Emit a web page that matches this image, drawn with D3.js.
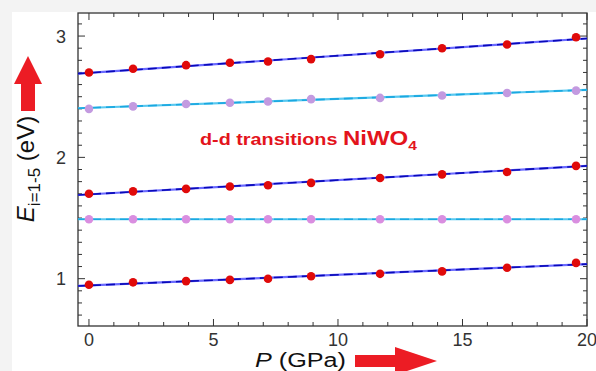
<!DOCTYPE html>
<html><head><meta charset="utf-8">
<script src="https://cdn.jsdelivr.net/npm/d3@7"></script>
<style>body{margin:0;background:#f3f3f3;}svg{display:block;}</style>
</head><body>
<svg id="c" width="596" height="371"></svg>
<script>
const pressures = [0, 1.77, 3.9, 5.66, 7.19, 8.92, 11.69, 14.18, 16.79, 19.56];
const band1 = [2.70, 2.73, 2.76, 2.78, 2.79, 2.81, 2.85, 2.90, 2.93, 2.99];
const band2 = [2.40, 2.42, 2.44, 2.45, 2.46, 2.48, 2.49, 2.51, 2.53, 2.55];
const band3 = [1.70, 1.72, 1.74, 1.76, 1.77, 1.79, 1.83, 1.86, 1.88, 1.93];
const band4 = [1.49, 1.49, 1.49, 1.49, 1.49, 1.49, 1.49, 1.49, 1.49, 1.49];
const band5 = [0.95, 0.97, 0.98, 0.99, 1.00, 1.02, 1.04, 1.06, 1.09, 1.13];
const fitStart = [2.69, 2.405, 1.69, 1.49, 0.94];
const fitEnd = [2.98, 2.556, 1.93, 1.49, 1.12];
const bandKind = ["red", "purple", "red", "purple", "red"];
const xTicks = [0, 5, 10, 15, 20];
const yTicks = [1, 2, 3];
const xDomain = [-0.44, 20];
const yDomain = [0.61, 3.19];

const svg = d3.select("#c");
svg.append("rect").attr("x",12).attr("y",12).attr("width",584).attr("height",359).attr("fill","#fff");
const L=78, R=587, T=13, B=326;
const x = d3.scaleLinear().domain(xDomain).range([L,R]);
const y = d3.scaleLinear().domain(yDomain).range([B,T]);
const bands = [band1, band2, band3, band4, band5];

// ticks
const g = svg.append("g").attr("stroke","#333").attr("stroke-width",1);
const xMinor = d3.range(0, 20.01, 1);
const yMinor = d3.range(0.7, 3.2, 0.1);
xMinor.forEach(v=>{
  const len = (Math.abs(v%5)<1e-6)?7:4;
  g.append("line").attr("x1",x(v)).attr("x2",x(v)).attr("y1",B).attr("y2",B-len);
  g.append("line").attr("x1",x(v)).attr("x2",x(v)).attr("y1",T).attr("y2",T+len);
});
yMinor.forEach(v=>{
  const isMaj = Math.abs(v-Math.round(v))<1e-6;
  const len = isMaj?7:4;
  g.append("line").attr("y1",y(v)).attr("y2",y(v)).attr("x1",L).attr("x2",L+len);
  g.append("line").attr("y1",y(v)).attr("y2",y(v)).attr("x1",R).attr("x2",R-len);
});
svg.append("rect").attr("x",L).attr("y",T).attr("width",R-L).attr("height",B-T)
  .attr("fill","none").attr("stroke","#333").attr("stroke-width",1.3);

// axis labels
const font = "Liberation Sans, Arial, sans-serif";
svg.selectAll(".xt").data(xTicks).enter().append("text")
  .attr("x",d=>x(d)).attr("y",346).attr("text-anchor","middle")
  .attr("font-family",font).attr("font-size",18).attr("fill","#333").text(d=>d);
svg.selectAll(".yt").data(yTicks).enter().append("text")
  .attr("x",66).attr("y",d=>y(d)+6.5).attr("text-anchor","end")
  .attr("font-family",font).attr("font-size",18).attr("fill","#333").text(d=>d);

// fit lines
const lineG = svg.append("g");
fitStart.forEach((s,i)=>{
  const purple = bandKind[i]==="purple";
  lineG.append("line").attr("x1",x(xDomain[0])).attr("x2",x(xDomain[1]))
    .attr("y1",y(s)).attr("y2",y(fitEnd[i]))
    .attr("stroke", purple?"#58c8f0":"#6a6aff").attr("stroke-width",2.2);
  lineG.append("line").attr("x1",x(xDomain[0])).attr("x2",x(xDomain[1]))
    .attr("y1",y(s)).attr("y2",y(fitEnd[i]))
    .attr("stroke", purple?"#1aa8e0":"#0a0ab8").attr("stroke-width",1.6)
    .attr("stroke-dasharray","9,5");
});

// points
bands.forEach((b,i)=>{
  const purple = bandKind[i]==="purple";
  svg.append("g").selectAll("circle").data(b).enter().append("circle")
    .attr("cx",(d,j)=>x(pressures[j])).attr("cy",d=>y(d)).attr("r",4.3)
    .attr("fill", purple?(i===1?"#c39ae0":"#d98ee0"):"#e00a0a");
});

// title
const t = svg.append("text").attr("transform","translate(200,145) scale(1.2,1)")
  .attr("font-family",font).attr("font-weight","bold").attr("fill","#e3141c").attr("font-size",16.5);
t.append("tspan").text("d-d transitions ");
t.append("tspan").attr("font-size",20).text("NiWO");
t.append("tspan").attr("font-size",13).attr("dy",5).text("4");

// y label
const yl = svg.append("text").attr("transform","translate(34,169) rotate(-90)")
  .attr("text-anchor","middle").attr("font-family",font).attr("font-size",24).attr("fill","#111");
yl.append("tspan").attr("font-style","italic").text("E");
yl.append("tspan").attr("font-size",17).attr("dy",6).text("i=1-5");
yl.append("tspan").attr("dy",-6).text(" (eV)");

// x label
const xl = svg.append("text").attr("transform","translate(255,367) scale(1.2,1)")
  .attr("font-family",font).attr("font-size",21).attr("fill","#111");
xl.append("tspan").attr("font-style","italic").text("P");
xl.append("tspan").text(" (GPa)");

// arrows
svg.append("path").attr("fill","#ec1c24")
  .attr("d","M21,111 L35,111 L35,84 L42,84 L28,56 L14,84 L21,84 Z");
svg.append("path").attr("fill","#ec1c24")
  .attr("d","M355,355 L395,355 L395,347 L437,361 L395,375 L395,367 L355,367 Z");
</script>
</body></html>
